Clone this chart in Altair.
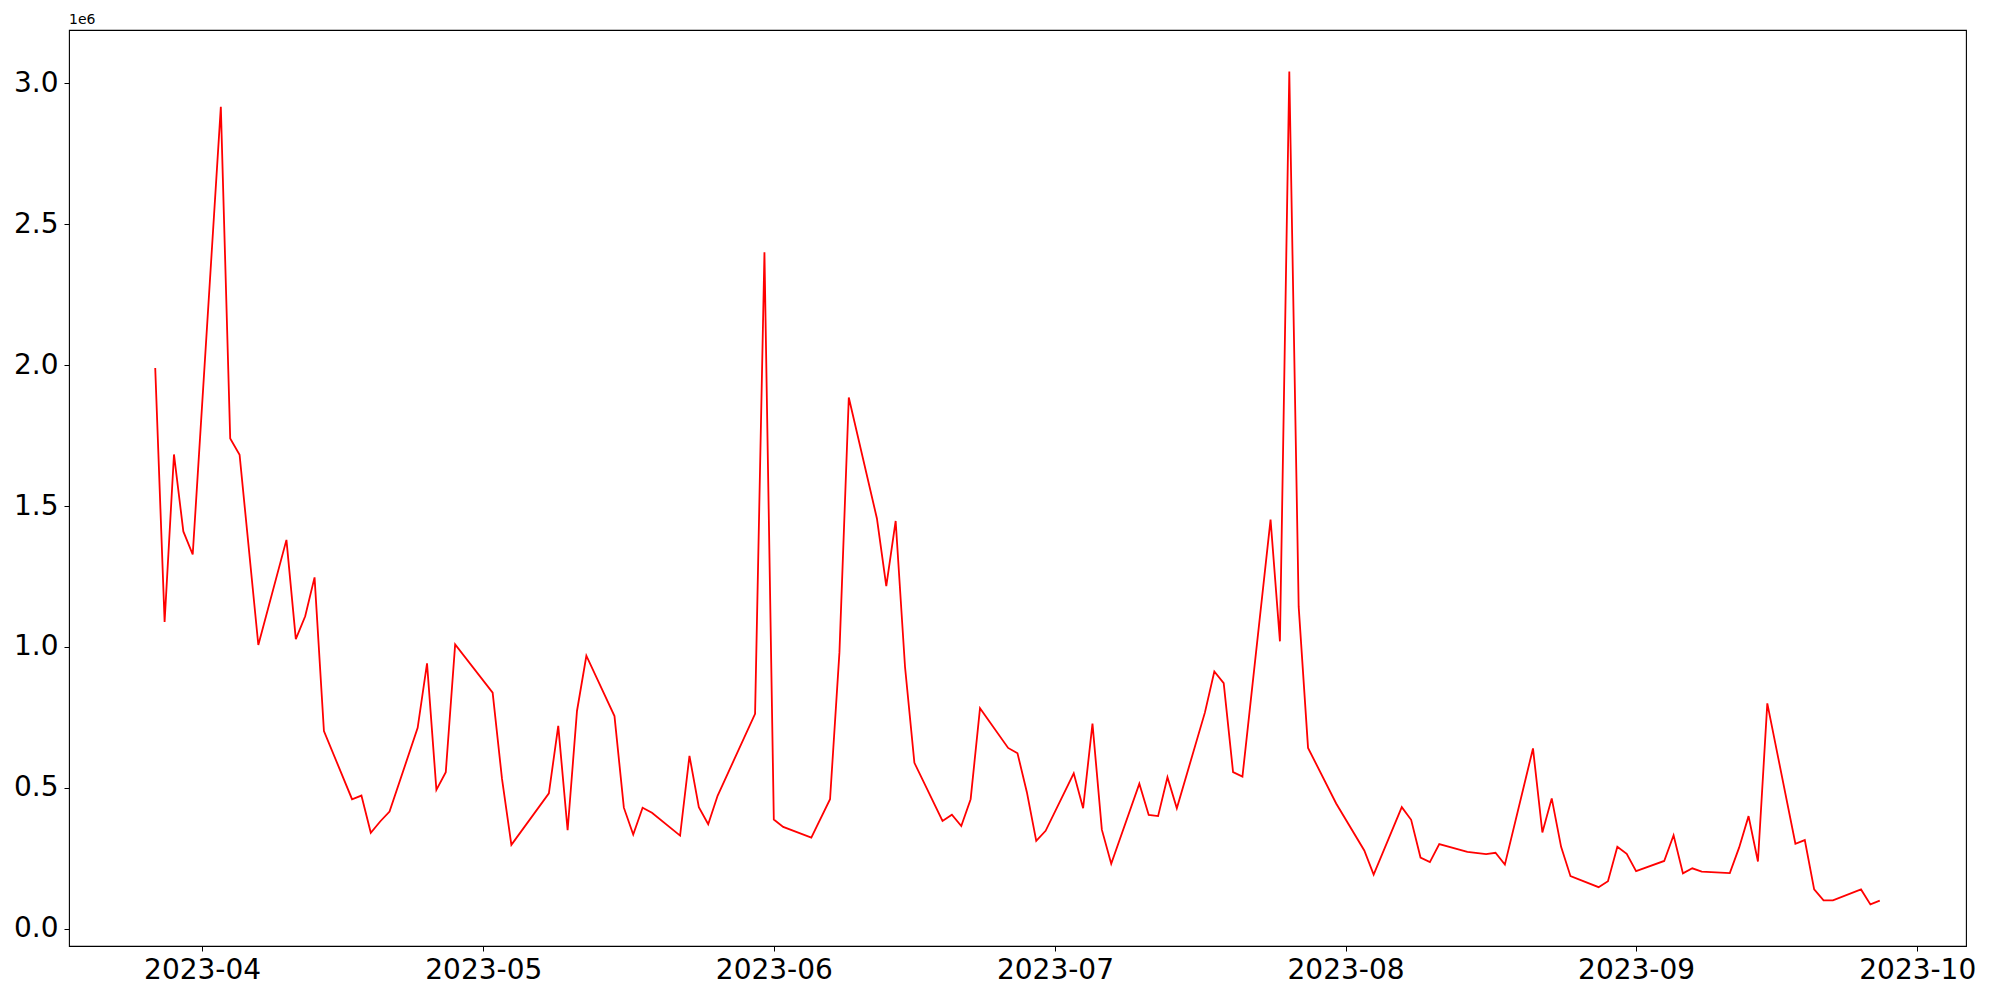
import altair as alt
import pandas as pd

dates = [
    "2023-03-27", "2023-03-28", "2023-03-29", "2023-03-30", "2023-03-31",
    "2023-04-03", "2023-04-04", "2023-04-05", "2023-04-07",
    "2023-04-10", "2023-04-11", "2023-04-12", "2023-04-13", "2023-04-14",
    "2023-04-17", "2023-04-18", "2023-04-19", "2023-04-20", "2023-04-21",
    "2023-04-24", "2023-04-25", "2023-04-26", "2023-04-27", "2023-04-28",
    "2023-05-02", "2023-05-03", "2023-05-04",
    "2023-05-08", "2023-05-09", "2023-05-10", "2023-05-11", "2023-05-12",
    "2023-05-15", "2023-05-16", "2023-05-17", "2023-05-18", "2023-05-19",
    "2023-05-22", "2023-05-23", "2023-05-24", "2023-05-25", "2023-05-26",
    "2023-05-30", "2023-05-31", "2023-06-01", "2023-06-02",
    "2023-06-05", "2023-06-07", "2023-06-08", "2023-06-09",
    "2023-06-12", "2023-06-13", "2023-06-14", "2023-06-15", "2023-06-16",
    "2023-06-19", "2023-06-20", "2023-06-21", "2023-06-22", "2023-06-23",
    "2023-06-26", "2023-06-27", "2023-06-28", "2023-06-29", "2023-06-30",
    "2023-07-03", "2023-07-04", "2023-07-05", "2023-07-06", "2023-07-07",
    "2023-07-10", "2023-07-11", "2023-07-12", "2023-07-13", "2023-07-14",
    "2023-07-17", "2023-07-18", "2023-07-19", "2023-07-20", "2023-07-21",
    "2023-07-24", "2023-07-25", "2023-07-26", "2023-07-27", "2023-07-28",
    "2023-07-31", "2023-08-03", "2023-08-04",
    "2023-08-07", "2023-08-08", "2023-08-09", "2023-08-10", "2023-08-11",
    "2023-08-14", "2023-08-16", "2023-08-17", "2023-08-18",
    "2023-08-21", "2023-08-22", "2023-08-23", "2023-08-24", "2023-08-25",
    "2023-08-28", "2023-08-29", "2023-08-30", "2023-08-31", "2023-09-01",
    "2023-09-04", "2023-09-05", "2023-09-06", "2023-09-07", "2023-09-08",
    "2023-09-11", "2023-09-12", "2023-09-13", "2023-09-14", "2023-09-15",
    "2023-09-18", "2023-09-19", "2023-09-20", "2023-09-21", "2023-09-22",
    "2023-09-25", "2023-09-26", "2023-09-27",
]

values_millions = [
    1.990, 1.089, 1.683, 1.410, 1.328,
    2.916, 1.740, 1.682, 1.007,
    1.380, 1.028, 1.109, 1.247, 0.702,
    0.460, 0.473, 0.341, 0.381, 0.416,
    0.713, 0.942, 0.493, 0.556, 1.009,
    0.838, 0.532, 0.298,
    0.481, 0.720, 0.350, 0.773, 0.969,
    0.755, 0.430, 0.335, 0.430, 0.412,
    0.331, 0.614, 0.432, 0.371, 0.472,
    0.763, 2.400, 0.388, 0.362,
    0.324, 0.460, 0.980, 1.885,
    1.456, 1.216, 1.447, 0.929, 0.589,
    0.383, 0.405, 0.365, 0.460, 0.783,
    0.642, 0.623, 0.485, 0.312, 0.348,
    0.552, 0.428, 0.728, 0.352, 0.231,
    0.515, 0.404, 0.400, 0.538, 0.428,
    0.768, 0.913, 0.872, 0.556, 0.540,
    1.452, 1.020, 3.041, 1.143, 0.642,
    0.445, 0.278, 0.193,
    0.432, 0.387, 0.253, 0.237, 0.301,
    0.273, 0.265, 0.270, 0.228,
    0.640, 0.342, 0.463, 0.291, 0.187,
    0.148, 0.169, 0.291, 0.266, 0.205,
    0.241, 0.332, 0.197, 0.215, 0.203,
    0.198, 0.289, 0.400, 0.239, 0.800,
    0.302, 0.315, 0.140, 0.101, 0.101,
    0.140, 0.087, 0.100,
]

month_ticks = ["2023-04-01", "2023-05-01", "2023-06-01", "2023-07-01",
               "2023-08-01", "2023-09-01", "2023-10-01"]
y_ticks = [0.0, 0.5, 1.0, 1.5, 2.0, 2.5, 3.0]
offset_label = ["1e6"]

df = pd.DataFrame({
    "date": pd.to_datetime(dates),
    "value": [v * 1e6 for v in values_millions],
})

def to_ms(s):
    return int(pd.Timestamp(s, tz="UTC").value // 10**6)

# matplotlib-style 5% margins
dmin = pd.Timestamp(dates[0], tz="UTC")
dmax = pd.Timestamp(dates[-1], tz="UTC")
span = dmax - dmin
x_domain = [int((dmin - span * 0.05).value // 10**6), int((dmax + span * 0.05).value // 10**6)]
vmin, vmax = min(values_millions), max(values_millions)
vr = vmax - vmin
y_domain = [(vmin - 0.05 * vr) * 1e6, (vmax + 0.05 * vr) * 1e6]

FONT = "DejaVu Sans"

line = alt.Chart(df).mark_line(color="#ff0000", strokeWidth=1.8).encode(
    x=alt.X(
        "date:T",
        scale=alt.Scale(type="utc", domain=x_domain, nice=False),
        axis=alt.Axis(
            values=[to_ms(m) for m in month_ticks],
            labelExpr="utcFormat(datum.value, '%Y-%m')",
            title=None, grid=False, domain=False,
            tickColor="black", tickSize=5, tickWidth=1,
            labelFont=FONT, labelFontSize=28, labelColor="black",
            labelPadding=5, labelFlush=False, labelOverlap=False,
        ),
    ),
    y=alt.Y(
        "value:Q",
        scale=alt.Scale(domain=y_domain, nice=False, zero=False),
        axis=alt.Axis(
            values=[v * 1e6 for v in y_ticks],
            labelExpr="format(datum.value / 1000000, '.1f')",
            title=None, grid=False, domain=False,
            tickColor="black", tickSize=5, tickWidth=1,
            labelFont=FONT, labelFontSize=28, labelColor="black",
            labelPadding=6, labelFlush=False,
        ),
    ),
)

offset_text = alt.Chart(pd.DataFrame({"t": offset_label})).mark_text(
    align="left", baseline="bottom", font=FONT, fontSize=14, color="black"
).encode(
    x=alt.value(0),
    y=alt.value(-3),
    text="t:N",
)

chart = alt.layer(line, offset_text).properties(
    width=1897,
    height=916,
    autosize=alt.AutoSizeParams(type="none"),
    padding={"left": 61, "top": 22, "right": 26, "bottom": 50},
    background="white",
).configure_view(
    stroke="black", strokeWidth=1.1
)

chart.save("out.html", embed_options={"renderer": "svg", "actions": False})
